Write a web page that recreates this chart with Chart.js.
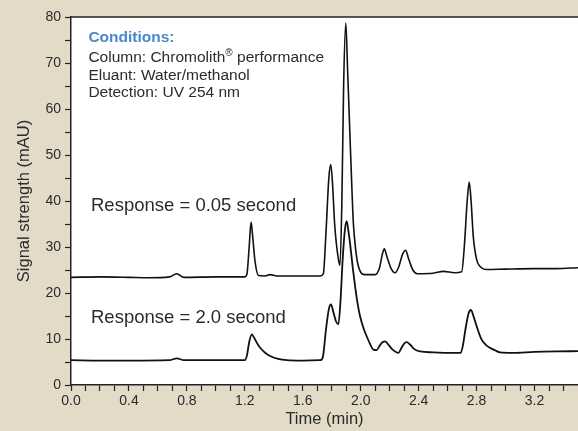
<!DOCTYPE html>
<html>
<head>
<meta charset="utf-8">
<script src="https://cdn.jsdelivr.net/npm/chart.js@4"></script>
<style>
  html, body { margin: 0; padding: 0; background: #e3dbc8; }
  #wrap { width: 578px; height: 431px; }
</style>
</head>
<body>
<div id="wrap"><canvas id="chroma"></canvas></div>
<script>
// Response = 0.05 second trace (time in min, signal in mAU)
const FAST_T = [0.00, 0.20, 0.40, 0.53, 0.68, 0.73, 0.78, 1.00, 1.20, 1.214, 1.23, 1.243, 1.255, 1.27, 1.294, 1.34, 1.374, 1.42, 1.60, 1.72,
  1.742, 1.76, 1.78, 1.793, 1.805, 1.82, 1.845, 1.857, 1.87, 1.882, 1.897, 1.91, 1.926, 1.94, 1.949, 1.965, 1.984, 2.03, 2.10,
  2.13, 2.15, 2.163, 2.18, 2.21, 2.237, 2.26, 2.29, 2.31, 2.33, 2.36, 2.39, 2.50, 2.57, 2.65, 2.697, 2.715, 2.735, 2.749, 2.762,
  2.777, 2.80, 2.834, 2.869, 3.00, 3.20, 3.35, 3.50];
const FAST_Y = [23.4, 23.5, 23.4, 23.3, 23.5, 24.2, 23.4, 23.5, 23.5, 24.0, 30.0, 35.4, 32.0, 27.0, 23.8, 23.7, 24.0, 23.7, 23.7, 23.7,
  24.2, 33.0, 45.0, 47.9, 44.0, 35.0, 27.5, 26.0, 40.0, 65.0, 78.7, 68.0, 54.0, 42.0, 35.3, 29.5, 25.8, 24.0, 24.0,
  25.5, 28.5, 29.6, 28.0, 25.3, 24.4, 25.5, 28.5, 29.3, 27.5, 25.0, 24.2, 24.3, 24.7, 24.4, 24.6, 30.0, 40.0, 44.1, 40.0,
  32.3, 27.3, 25.5, 25.1, 25.2, 25.3, 25.3, 25.5];

// Response = 2.0 second trace
const SLOW_T = [0.00, 0.20, 0.40, 0.68, 0.73, 0.78, 1.00, 1.20, 1.215, 1.23, 1.248, 1.265, 1.29, 1.306, 1.34, 1.374, 1.43, 1.49, 1.60, 1.72,
  1.738, 1.76, 1.78, 1.795, 1.81, 1.83, 1.846, 1.86, 1.875, 1.89, 1.903, 1.915, 1.926, 1.945, 1.961, 1.978, 1.995, 2.02, 2.041,
  2.065, 2.087, 2.11, 2.13, 2.15, 2.168, 2.19, 2.22, 2.26, 2.28, 2.30, 2.317, 2.34, 2.37, 2.41, 2.50, 2.60, 2.69, 2.705, 2.725,
  2.745, 2.761, 2.78, 2.80, 2.834, 2.862, 2.892, 2.93, 2.961, 3.05, 3.20, 3.35, 3.50];
const SLOW_Y = [5.4, 5.3, 5.3, 5.4, 5.8, 5.4, 5.4, 5.4, 6.5, 9.3, 11.0, 10.2, 8.8, 8.1, 7.0, 6.3, 5.7, 5.4, 5.3, 5.4,
  6.0, 12.0, 16.5, 17.5, 16.0, 13.8, 13.2, 18.0, 27.0, 33.5, 35.6, 33.5, 30.9, 25.5, 21.5, 17.8, 15.0, 12.3, 10.6,
  8.9, 7.7, 7.6, 8.5, 9.3, 9.5, 8.8, 7.7, 7.0, 8.0, 9.0, 9.3, 8.8, 7.8, 7.3, 7.1, 7.0, 7.0, 8.5, 12.5,
  15.6, 16.3, 14.8, 12.8, 9.9, 8.8, 8.1, 7.5, 7.1, 7.0, 7.2, 7.3, 7.35];

// Axis ticks (minor every 0.1 min, labelled every 0.4 min)
const X_TICKS = [0.0, 0.1, 0.2, 0.3, 0.4, 0.5, 0.6, 0.7, 0.8, 0.9, 1.0, 1.1, 1.2, 1.3, 1.4, 1.5, 1.6, 1.7,
  1.8, 1.9, 2.0, 2.1, 2.2, 2.3, 2.4, 2.5, 2.6, 2.7, 2.8, 2.9, 3.0, 3.1, 3.2, 3.3, 3.4];
const X_LABELS = ['0.0', '0.4', '0.8', '1.2', '1.6', '2.0', '2.4', '2.8', '3.2'];
const Y_LABELS = [0, 10, 20, 30, 40, 50, 60, 70, 80];

// Text placed on the plot, anchored to data coordinates
const COND_LINES = ['Conditions:', 'Column: Chromolith', 'Eluant: Water/methanol', 'Detection: UV 254 nm'];
const COND_X = 0.12;
const COND_Y = [74.5, 70.3, 66.4, 62.65];
const RESP_LABELS = ['Response = 0.05 second', 'Response = 2.0 second'];
const RESP_X = 0.138;
const RESP_Y = [37.8, 13.5];

const COLORS = {
    page: '#e3dbc8',
    plot: '#ffffff',
    line: '#111111',
    axis: '#222222',
    text: '#2b2b2b',
    cond: '#4a88cc',
};
const FONT = "'Liberation Sans', Arial, Helvetica, sans-serif";

const toPts = (ts, ys) => ts.map((t, i) => ({ x: t, y: ys[i] }));

const backdrop = {
    id: 'backdrop',
    beforeDraw(c) {
        const { ctx, chartArea: a } = c;
        ctx.save();
        ctx.fillStyle = COLORS.page;
        ctx.fillRect(0, 0, c.width, c.height);
        ctx.fillStyle = COLORS.plot;
        ctx.fillRect(a.left, a.top, a.right - a.left, a.bottom - a.top);
        ctx.restore();
    },
    afterDraw(c) {
        const { ctx, chartArea: a, scales } = c;
        const xs = scales.x, ys = scales.y;
        ctx.save();
        // top frame line
        ctx.strokeStyle = COLORS.axis;
        ctx.lineWidth = 1.5;
        ctx.beginPath();
        ctx.moveTo(a.left, a.top);
        ctx.lineTo(a.right, a.top);
        ctx.stroke();

        // conditions box text
        ctx.textBaseline = 'alphabetic';
        ctx.textAlign = 'left';
        const cx = xs.getPixelForValue(COND_X);
        COND_LINES.forEach((txt, i) => {
            const cy = ys.getPixelForValue(COND_Y[i]);
            if (i === 0) {
                ctx.font = 'bold 15.5px ' + FONT;
                ctx.fillStyle = COLORS.cond;
                ctx.fillText(txt, cx, cy);
                return;
            }
            ctx.font = '15.5px ' + FONT;
            ctx.fillStyle = COLORS.text;
            ctx.fillText(txt, cx, cy);
            if (i === 1) {
                let w = ctx.measureText(txt).width;
                ctx.font = '10px ' + FONT;
                ctx.fillText('®', cx + w, cy - 6);
                w += ctx.measureText('®').width;
                ctx.font = '15.5px ' + FONT;
                ctx.fillText(' performance', cx + w, cy);
            }
        });

        // response labels
        ctx.font = '18.5px ' + FONT;
        ctx.fillStyle = COLORS.text;
        RESP_LABELS.forEach((txt, i) => {
            ctx.fillText(txt, xs.getPixelForValue(RESP_X), ys.getPixelForValue(RESP_Y[i]));
        });
        ctx.restore();
    }
};

const tickFont = { size: 14, family: FONT };
const titleFont = { size: 16.5, family: FONT };

new Chart(document.getElementById('chroma'), {
    type: 'line',
    data: {
        datasets: [
            {
                label: 'Response = 0.05 second',
                data: toPts(FAST_T, FAST_Y),
                borderColor: COLORS.line,
                borderWidth: 1.6,
                pointRadius: 0,
                cubicInterpolationMode: 'monotone',
                fill: false,
            },
            {
                label: 'Response = 2.0 second',
                data: toPts(SLOW_T, SLOW_Y),
                borderColor: COLORS.line,
                borderWidth: 1.8,
                pointRadius: 0,
                cubicInterpolationMode: 'monotone',
                fill: false,
            },
        ]
    },
    options: {
        responsive: true,
        maintainAspectRatio: false,
        animation: false,
        devicePixelRatio: 1,
        layout: { padding: { left: 0, top: 17, right: 0, bottom: 0 } },
        plugins: {
            legend: { display: false },
            tooltip: { enabled: false },
        },
        scales: {
            x: {
                type: 'linear',
                min: 0,
                max: 3.5,
                afterBuildTicks: s => { s.ticks = X_TICKS.map(v => ({ value: v })); },
                afterFit: s => { s.height = 46; },
                grid: {
                    drawOnChartArea: false,
                    drawTicks: true,
                    tickLength: 6,
                    tickColor: COLORS.axis,
                    tickWidth: 1.2,
                },
                border: { display: true, color: COLORS.axis, width: 1.5 },
                ticks: {
                    autoSkip: false,
                    maxRotation: 0,
                    padding: 2,
                    color: COLORS.text,
                    font: tickFont,
                    callback: v => {
                        const s = Number(v).toFixed(1);
                        return X_LABELS.includes(s) ? s : '';
                    },
                },
                title: {
                    display: true,
                    text: 'Time (min)',
                    color: COLORS.text,
                    font: titleFont,
                    padding: { top: 0, bottom: 2 },
                },
            },
            y: {
                min: 0,
                max: 80,
                afterFit: s => { s.width = 71; },
                grid: {
                    drawOnChartArea: false,
                    drawTicks: true,
                    tickLength: 6,
                    tickColor: COLORS.axis,
                    tickWidth: 1.2,
                },
                border: { display: true, color: COLORS.axis, width: 1.5 },
                ticks: {
                    stepSize: 5,
                    autoSkip: false,
                    padding: 4,
                    color: COLORS.text,
                    font: tickFont,
                    callback: v => Y_LABELS.includes(v) ? String(v) : '',
                },
                title: {
                    display: true,
                    text: 'Signal strength (mAU)',
                    color: COLORS.text,
                    font: titleFont,
                    padding: { top: 15, bottom: 0 },
                },
            },
        },
    },
    plugins: [backdrop],
});
</script>
</body>
</html>
